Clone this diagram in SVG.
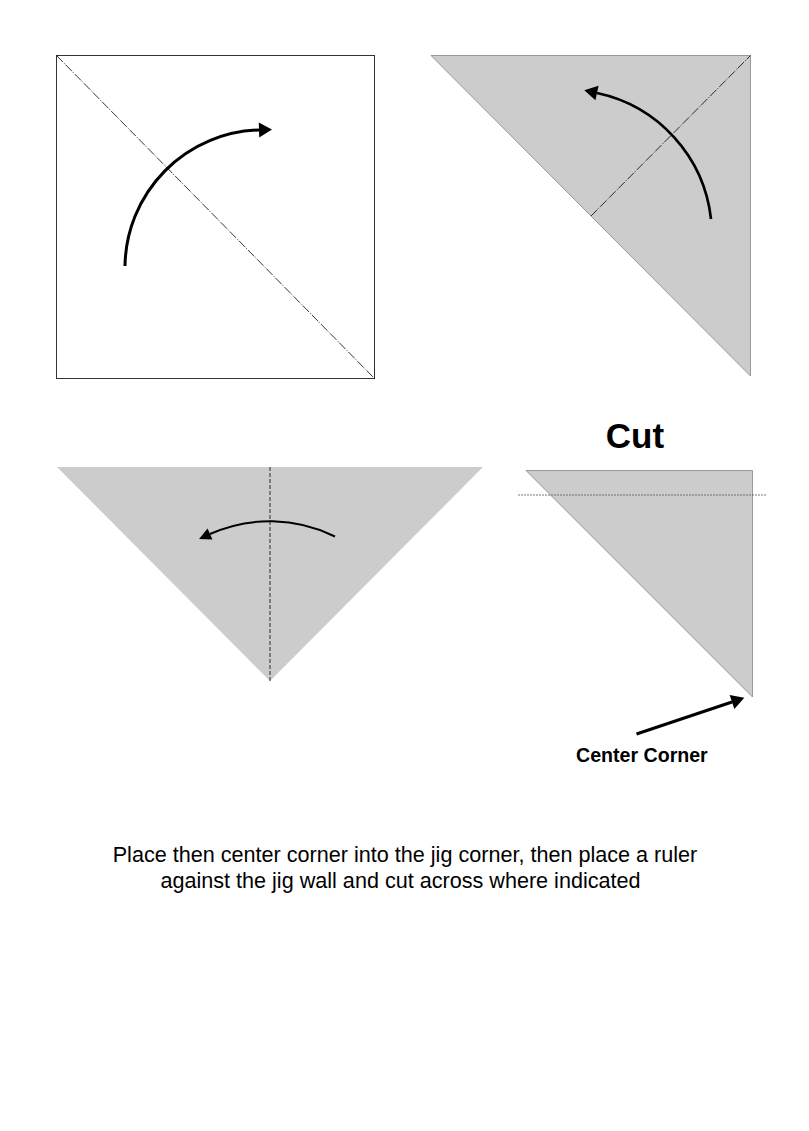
<svg xmlns="http://www.w3.org/2000/svg" width="809" height="1131" viewBox="0 0 809 1131">
<style>
.paper{fill:#cccccc;stroke:#999999;stroke-width:1}
.fold{fill:none;stroke:#000;stroke-width:0.8;stroke-dasharray:9 1.5 1 1.5}
.arrow{fill:none;stroke:#000;stroke-linecap:butt}
.lbl{font-family:"Liberation Sans",Arial,sans-serif;fill:#000}
</style>
<defs>
<marker id="ah" markerUnits="userSpaceOnUse" markerWidth="14" markerHeight="16" refX="0" refY="7.5" orient="auto" overflow="visible">
<path d="M0,0 L13,7.5 L0,15 Z" fill="#000"/>
</marker>
<marker id="ahs" markerUnits="userSpaceOnUse" markerWidth="13" markerHeight="13" refX="0" refY="6" orient="auto" overflow="visible">
<path d="M0,0 L12,6 L0,12 Z" fill="#000"/>
</marker>
</defs>
<rect width="809" height="1131" fill="#fff"/>
<g id="step1">
<rect x="56.5" y="55.5" width="318" height="323" fill="#fff" stroke="#333" stroke-width="1"/>
<line class="fold" x1="56.5" y1="55.5" x2="374.5" y2="378.5"/>
</g>
<g id="step2">
<polygon class="paper" points="431,55.5 750.5,55.5 750.5,376"/>
<line class="fold" x1="591" y1="216" x2="750.5" y2="55.5"/>
</g>
<g id="step3">
<polygon points="57,467 483,467 270,681" fill="#cccccc"/>
<line x1="270" y1="467" x2="270" y2="681" stroke="#000" stroke-width="0.8" stroke-dasharray="4 2"/>
</g>
<g id="step4">
<text class="lbl" x="635" y="447.5" font-size="35" font-weight="bold" text-anchor="middle">Cut</text>
<polygon class="paper" points="526,470.5 752.5,470.5 752.5,697"/>
<line x1="518" y1="495" x2="767" y2="495" stroke="#555" stroke-width="0.8" stroke-dasharray="2 1"/>
<text class="lbl" x="576" y="762" font-size="19.6" font-weight="bold">Center Corner</text>
</g>
<g id="instructions">
<text class="lbl" x="405" y="862" font-size="21.6" text-anchor="middle">Place then center corner into the jig corner, then place a ruler</text>
<text class="lbl" x="400.5" y="888" font-size="21.6" text-anchor="middle">against the jig wall and cut across where indicated</text>
</g>
<g id="connectors">
<path class="arrow" stroke-width="3" d="M125,266 A138,138 0 0 1 259,130" marker-end="url(#ah)"/>
<path class="arrow" stroke-width="2.7" d="M711,219 A145,145 0 0 0 597,93" marker-end="url(#ah)"/>
<path class="arrow" stroke-width="2" d="M335,536.5 A147,147 0 0 0 210,534" marker-end="url(#ahs)"/>
<line class="arrow" stroke-width="3" x1="636.5" y1="734" x2="732" y2="702" marker-end="url(#ah)"/>
</g>
</svg>
